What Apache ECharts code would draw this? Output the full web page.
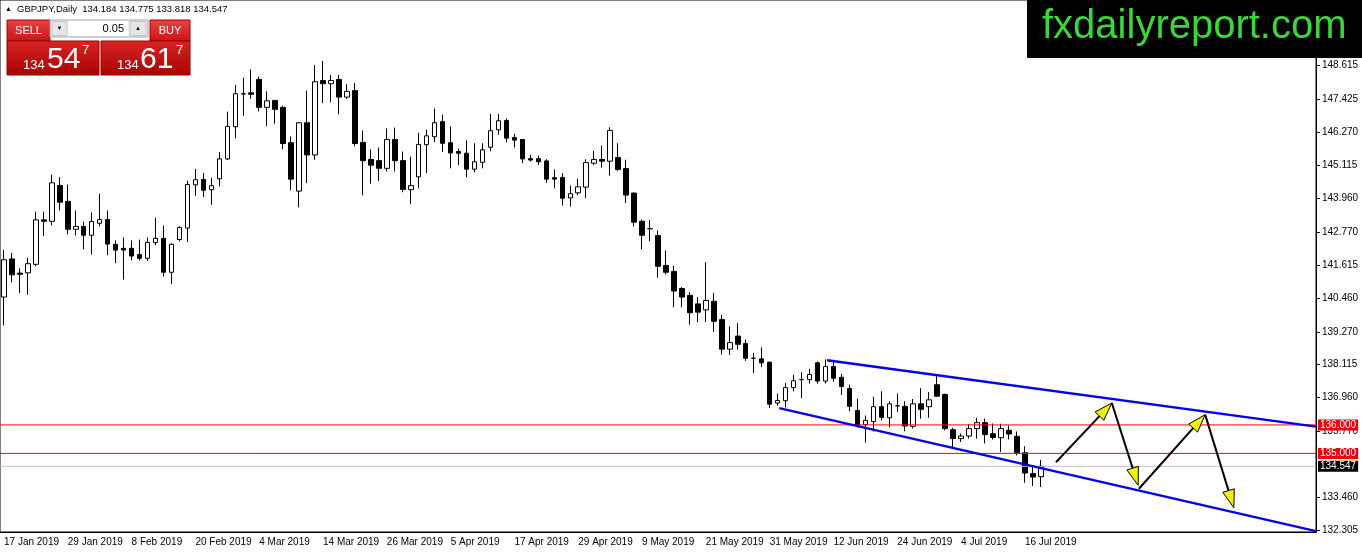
<!DOCTYPE html>
<html>
<head>
<meta charset="utf-8">
<title>GBPJPY Daily</title>
<script src="https://cdn.jsdelivr.net/npm/echarts@6.0.0/dist/echarts.min.js"></script>
<style>
	html, body { margin: 0; padding: 0; background: #fff; }
	#chart { width: 1362px; height: 553px; }
</style>
</head>
<body>
<div id="chart"></div>
<script>
"use strict";

/*-----data-----*/
var startDate = Date.UTC(2019, 0, 17);
var slotCount = 165;
var monthNames = ['Jan', 'Feb', 'Mar', 'Apr', 'May', 'Jun', 'Jul', 'Aug', 'Sep', 'Oct', 'Nov', 'Dec'];
var tickLabels = ['17 Jan 2019', '29 Jan 2019', '8 Feb 2019', '20 Feb 2019', '4 Mar 2019', '14 Mar 2019',
	'26 Mar 2019', '5 Apr 2019', '17 Apr 2019', '29 Apr 2019', '9 May 2019', '21 May 2019', '31 May 2019',
	'12 Jun 2019', '24 Jun 2019', '4 Jul 2019', '16 Jul 2019'];
var priceTicks = [132.305, 133.460, 135.770, 136.960, 138.115, 139.270, 140.460, 141.615,
	142.770, 143.960, 145.115, 146.270, 147.425, 148.615];

var opens = [
	140.49, 141.83, 141.33, 141.34, 141.64, 143.20, 143.15, 144.41, 143.85, 142.87,
	142.97, 142.66, 143.08, 143.21, 142.34, 142.20, 142.20, 141.98, 141.85, 142.40,
	142.55, 141.36, 142.51, 142.91, 144.43, 144.62, 144.26, 144.64, 145.34, 146.47,
	147.63, 147.66, 148.13, 147.15, 147.39, 147.15, 145.91, 144.21, 146.61, 145.48,
	148.09, 147.98, 148.13, 147.51, 147.74, 145.92, 145.32, 145.28, 145.01, 146.02,
	145.28, 144.26, 144.71, 145.84, 146.12, 146.65, 145.91, 145.60, 145.54, 144.98,
	145.22, 145.75, 146.36, 146.69, 146.09, 146.02, 145.35, 145.35, 145.27, 144.68,
	144.69, 143.97, 144.15, 144.35, 145.19, 145.32, 145.26, 145.39, 145.00, 144.14,
	143.15, 142.89, 142.65, 141.60, 141.39, 140.79, 140.55, 140.25, 140.04, 140.34,
	139.70, 138.66, 139.12, 138.86, 138.34, 138.32, 138.20, 136.77, 136.85, 137.31,
	137.59, 137.59, 138.18, 137.54, 138.05, 137.67, 137.28, 136.51, 136.01, 136.12,
	136.64, 136.25, 136.67, 136.65, 135.95, 136.74, 136.64, 137.41, 137.07, 135.83,
	135.52, 135.61, 135.87, 136.08, 135.69, 135.55, 135.81, 135.60, 135.02, 134.29,
	134.184];
var closes = [
	141.80, 141.27, 141.29, 141.66, 143.20, 143.15, 144.50, 143.82, 142.87, 142.97,
	142.66, 143.14, 143.21, 142.35, 142.14, 142.14, 141.93, 141.85, 142.41, 142.55,
	141.36, 142.34, 142.93, 144.44, 144.61, 144.24, 144.40, 145.34, 146.48, 147.63,
	147.62, 147.61, 147.15, 147.38, 147.08, 145.88, 144.63, 146.61, 145.48, 148.05,
	147.98, 148.09, 147.51, 147.71, 145.88, 145.28, 145.12, 145.01, 146.02, 145.28,
	144.27, 144.40, 145.85, 146.15, 146.61, 145.89, 145.55, 145.54, 144.98, 145.24,
	145.66, 146.33, 146.68, 146.07, 146.00, 145.34, 145.30, 145.24, 144.63, 144.63,
	143.96, 144.12, 144.36, 145.21, 145.32, 145.26, 146.34, 144.97, 144.07, 143.12,
	142.66, 142.89, 141.57, 141.36, 140.70, 140.49, 139.94, 139.96, 140.37, 139.64,
	138.66, 138.89, 138.83, 138.34, 138.34, 138.18, 136.73, 136.86, 137.31, 137.55,
	137.59, 137.77, 137.54, 138.05, 137.64, 137.35, 136.65, 135.98, 136.16, 136.64,
	136.26, 136.74, 136.67, 135.96, 136.74, 136.55, 136.88, 137.01, 135.87, 135.52,
	135.61, 135.87, 136.08, 135.66, 135.56, 135.87, 135.68, 135.02, 134.31, 134.17,
	134.547];
var lows = [
	139.49, 141.01, 140.63, 140.57, 141.57, 142.63, 143.00, 143.53, 142.69, 142.65,
	142.16, 141.98, 142.98, 141.96, 141.68, 141.10, 141.78, 141.78, 141.76, 142.31,
	141.21, 140.94, 142.44, 142.42, 144.05, 144.00, 143.73, 144.38, 145.30, 146.07,
	146.86, 147.45, 147.01, 146.49, 146.58, 145.68, 144.24, 143.64, 144.49, 145.31,
	147.30, 147.33, 146.91, 147.45, 145.79, 144.06, 144.47, 144.56, 144.90, 144.90,
	144.17, 143.75, 144.31, 144.84, 145.93, 145.58, 145.01, 145.12, 144.70, 144.87,
	145.01, 145.61, 146.19, 145.93, 145.74, 145.19, 145.25, 145.13, 144.50, 144.31,
	143.70, 143.67, 144.07, 143.96, 145.13, 145.03, 144.75, 144.91, 143.79, 142.97,
	142.17, 142.45, 141.17, 141.28, 140.13, 140.13, 139.52, 139.61, 139.61, 139.26,
	138.47, 138.46, 138.65, 138.25, 137.82, 138.03, 136.59, 136.68, 136.61, 137.18,
	136.94, 137.45, 137.45, 137.46, 137.52, 137.05, 136.48, 135.91, 135.38, 135.77,
	136.16, 135.92, 136.45, 135.78, 135.87, 136.22, 136.25, 136.99, 135.81, 135.20,
	135.40, 135.52, 135.52, 135.35, 135.49, 135.05, 135.49, 134.93, 133.97, 133.85,
	133.818];
var highs = [
	142.15, 142.04, 141.50, 141.87, 143.49, 143.49, 144.79, 144.70, 144.44, 143.53,
	143.14, 143.46, 144.12, 143.53, 142.48, 142.58, 142.48, 142.51, 142.58, 143.28,
	143.00, 142.38, 142.98, 144.58, 144.99, 144.85, 144.68, 145.58, 147.00, 147.94,
	148.19, 148.48, 148.23, 147.71, 147.42, 147.21, 146.13, 146.63, 147.74, 148.64,
	148.78, 148.29, 148.29, 147.96, 148.01, 146.34, 145.67, 145.74, 146.41, 146.44,
	145.60, 145.42, 146.26, 146.37, 147.11, 146.90, 146.48, 145.70, 145.99, 145.89,
	145.89, 146.92, 146.92, 146.76, 146.22, 146.03, 145.49, 145.46, 145.33, 144.97,
	144.84, 144.40, 144.64, 145.33, 145.62, 145.81, 146.45, 145.89, 145.31, 144.16,
	143.21, 143.20, 142.83, 142.13, 141.59, 140.84, 140.66, 140.49, 141.71, 140.64,
	139.87, 139.46, 139.57, 139.00, 138.53, 138.72, 138.23, 137.10, 137.47, 137.76,
	137.85, 137.97, 138.23, 138.30, 138.20, 137.79, 137.41, 136.92, 136.33, 136.99,
	137.18, 136.83, 137.10, 136.83, 136.91, 137.29, 137.15, 137.74, 137.10, 135.90,
	135.70, 136.03, 136.25, 136.22, 136.05, 136.04, 135.98, 135.77, 135.25, 134.58,
	134.775];

/* horizontal levels and drawn objects (bar index, price) */
var levelPrices = [136.000, 135.000];
var currentPrice = 134.547;
var channelUpper = [[103.2, 138.27], [164.5, 135.94]];
var channelLower = [[97.2, 136.59], [164.5, 132.27]];
var arrowSegments = [
	[131.9, 134.69, 138.9, 136.77],
	[138.9, 136.77, 142.2, 133.88],
	[142.3, 133.76, 150.6, 136.36],
	[150.6, 136.36, 154.2, 133.09]
];

/*-----categories (weekdays)-----*/
var categories = [];
var t = startDate;
while (categories.length < slotCount) {
	var d = new Date(t);
	var wd = d.getUTCDay();
	if (wd !== 0 && wd !== 6) {
		categories.push(d.getUTCDate() + ' ' + monthNames[d.getUTCMonth()] + ' ' + d.getUTCFullYear());
	}
	t += 86400000;
}

var candleData = opens.map(function (o, i) {
	return [o, closes[i], lows[i], highs[i]];
});

var axisFont = "'Liberation Sans', Arial, sans-serif";

function showTick(index, value) {
	return tickLabels.indexOf(value) >= 0;
}

/* a full width horizontal line with its price box on the price scale */
function levelSeries(price, lineColor, bg) {
	return {
		name: 'level ' + price,
		type: 'line',
		xAxisIndex: 1,
		yAxisIndex: 0,
		data: [[-0.5, price], [slotCount - 0.5, price]],
		symbol: 'none',
		silent: true,
		z: 3,
		lineStyle: { color: lineColor, width: 1, type: 'solid' },
		endLabel: {
			show: true,
			distance: 2,
			formatter: price.toFixed(3),
			color: '#fff',
			backgroundColor: bg,
			padding: [1, 2, 0, 2],
			fontFamily: axisFont,
			fontSize: 10
		}
	};
}

/*-----chart-----*/
var chart = echarts.init(document.getElementById('chart'));
var option = {
	animation: false,
	backgroundColor: '#fff',
	grid: {
		left: 0,
		top: 0,
		width: 1316,
		height: 532,
		show: true,
		backgroundColor: 'transparent',
		borderColor: '#000',
		borderWidth: 1
	},
	xAxis: [{
		type: 'category',
		data: categories,
		boundaryGap: true,
		axisLine: { onZero: false, lineStyle: { color: '#000', width: 1 } },
		axisTick: {
			interval: showTick,
			alignWithLabel: true,
			length: 4,
			lineStyle: { color: '#000' }
		},
		axisLabel: {
			interval: showTick,
			align: 'left',
			margin: 5,
			color: '#000',
			fontFamily: axisFont,
			fontSize: 10
		},
		splitLine: { show: false }
	}, {
		type: 'value',
		min: -0.5,
		max: slotCount - 0.5,
		show: false
	}],
	yAxis: [{
		type: 'value',
		position: 'right',
		min: 132.24,
		max: 150.92,
		axisLine: { show: true, onZero: false, lineStyle: { color: '#000', width: 1 } },
		axisTick: {
			show: true,
			length: 4,
			customValues: priceTicks,
			lineStyle: { color: '#000' }
		},
		axisLabel: {
			customValues: priceTicks,
			margin: 6,
			color: '#000',
			fontFamily: axisFont,
			fontSize: 10,
			formatter: function (v) { return v.toFixed(3); }
		},
		splitLine: { show: false }
	}],
	series: [{
		name: 'GBPJPY',
		type: 'candlestick',
		xAxisIndex: 0,
		yAxisIndex: 0,
		barWidth: 5,
		data: candleData,
		z: 2,
		itemStyle: {
			color: '#fff',
			color0: '#000',
			borderColor: '#000',
			borderColor0: '#000',
			borderWidth: 1
		}
	},
	levelSeries(levelPrices[0], '#ff0000', '#e8000b'),
	levelSeries(levelPrices[1], '#ff0000', '#e8000b'),
	levelSeries(currentPrice, '#c0c0c0', '#000'),
	{
		name: 'channel upper',
		type: 'line',
		xAxisIndex: 1,
		yAxisIndex: 0,
		data: channelUpper,
		symbol: 'none',
		lineStyle: { color: '#0000ee', width: 2.5 },
		z: 4
	}, {
		name: 'channel lower',
		type: 'line',
		xAxisIndex: 1,
		yAxisIndex: 0,
		data: channelLower,
		symbol: 'none',
		lineStyle: { color: '#0000ee', width: 2.5 },
		z: 4
	}, {
		name: 'arrows',
		type: 'custom',
		xAxisIndex: 1,
		yAxisIndex: 0,
		data: arrowSegments,
		encode: { x: [0, 2], y: [1, 3] },
		z: 5,
		renderItem: function (params, api) {
			var a = api.coord([api.value(0), api.value(1)]);
			var b = api.coord([api.value(2), api.value(3)]);
			var dx = b[0] - a[0], dy = b[1] - a[1];
			var len = Math.sqrt(dx * dx + dy * dy);
			var ux = dx / len, uy = dy / len;
			var hl = 18, hw = 6;
			var bx = b[0] - ux * hl, by = b[1] - uy * hl;
			return {
				type: 'group',
				children: [{
					type: 'line',
					shape: { x1: a[0], y1: a[1], x2: bx, y2: by },
					style: { stroke: '#000', lineWidth: 2 }
				}, {
					type: 'polygon',
					shape: { points: [[b[0], b[1]], [bx - uy * hw, by + ux * hw], [bx + uy * hw, by - ux * hw]] },
					style: { fill: '#f2f200', stroke: '#000', lineWidth: 1 }
				}]
			};
		}
	}],
	graphic: [
		/* header */
		{ type: 'text', z: 100, style: { text: '▲', x: 5, y: 9, font: '7px sans-serif', fill: '#000', verticalAlign: 'middle' } },
		{ type: 'text', z: 100, style: { text: 'GBPJPY,Daily  134.184 134.775 133.818 134.547', x: 17, y: 9, font: "9.5px " + axisFont, fill: '#000', verticalAlign: 'middle' } },
		/* one click trading panel */
		{ type: 'rect', z: 100, shape: { x: 7, y: 20, width: 43, height: 21 }, style: { fill: new echarts.graphic.LinearGradient(0, 0, 0, 1, [{ offset: 0, color: '#e84545' }, { offset: 1, color: '#c81414' }]), stroke: '#b00000' } },
		{ type: 'text', z: 101, style: { text: 'SELL', x: 28.5, y: 30.5, font: "11px " + axisFont, fill: '#fff', align: 'center', verticalAlign: 'middle' } },
		{ type: 'rect', z: 100, shape: { x: 150, y: 20, width: 40, height: 21 }, style: { fill: new echarts.graphic.LinearGradient(0, 0, 0, 1, [{ offset: 0, color: '#e84545' }, { offset: 1, color: '#c81414' }]), stroke: '#b00000' } },
		{ type: 'text', z: 101, style: { text: 'BUY', x: 170, y: 30.5, font: "11px " + axisFont, fill: '#fff', align: 'center', verticalAlign: 'middle' } },
		{ type: 'rect', z: 100, shape: { x: 50, y: 20, width: 98, height: 17 }, style: { fill: '#f0f0f0', stroke: '#a8a8a8' } },
		{ type: 'rect', z: 101, shape: { x: 52, y: 21.5, width: 15, height: 14 }, style: { fill: '#e6e6e6', stroke: '#c8c8c8' } },
		{ type: 'text', z: 102, style: { text: '▼', x: 59.5, y: 28.5, font: '6px sans-serif', fill: '#000', align: 'center', verticalAlign: 'middle' } },
		{ type: 'rect', z: 101, shape: { x: 68, y: 21, width: 60, height: 15 }, style: { fill: '#fff' } },
		{ type: 'text', z: 102, style: { text: '0.05', x: 124, y: 28.5, font: "11px " + axisFont, fill: '#000', align: 'right', verticalAlign: 'middle' } },
		{ type: 'rect', z: 101, shape: { x: 130, y: 21.5, width: 16, height: 14 }, style: { fill: '#e6e6e6', stroke: '#c8c8c8' } },
		{ type: 'text', z: 102, style: { text: '▲', x: 138, y: 28.5, font: '6px sans-serif', fill: '#000', align: 'center', verticalAlign: 'middle' } },
		{ type: 'rect', z: 100, shape: { x: 7, y: 41, width: 92, height: 34 }, style: { fill: new echarts.graphic.LinearGradient(0, 0, 0, 1, [{ offset: 0, color: '#d82424' }, { offset: 1, color: '#a80404' }]), stroke: '#9a0000' } },
		{ type: 'rect', z: 100, shape: { x: 101, y: 41, width: 89, height: 34 }, style: { fill: new echarts.graphic.LinearGradient(0, 0, 0, 1, [{ offset: 0, color: '#d82424' }, { offset: 1, color: '#a80404' }]), stroke: '#9a0000' } },
		{ type: 'text', z: 101, style: { text: '134', x: 23, y: 72, font: "13px " + axisFont, fill: '#fff', verticalAlign: 'bottom' } },
		{ type: 'text', z: 101, style: { text: '54', x: 47, y: 75, font: "30px " + axisFont, fill: '#fff', verticalAlign: 'bottom' } },
		{ type: 'text', z: 101, style: { text: '7', x: 82, y: 44, font: "13px " + axisFont, fill: '#fff', verticalAlign: 'top' } },
		{ type: 'text', z: 101, style: { text: '134', x: 117, y: 72, font: "13px " + axisFont, fill: '#fff', verticalAlign: 'bottom' } },
		{ type: 'text', z: 101, style: { text: '61', x: 140, y: 75, font: "30px " + axisFont, fill: '#fff', verticalAlign: 'bottom' } },
		{ type: 'text', z: 101, style: { text: '7', x: 176, y: 44, font: "13px " + axisFont, fill: '#fff', verticalAlign: 'top' } },
		/* logo */
		{ type: 'rect', z: 100, shape: { x: 1027, y: 0, width: 335, height: 58 }, style: { fill: '#000' } },
		{ type: 'text', z: 101, style: { text: 'fxdailyreport.com', x: 1042, y: 27, font: "40px 'Liberation Sans', Arial, sans-serif", fill: '#3cd63c', verticalAlign: 'middle' } }
	]
};
chart.setOption(option);
window.addEventListener('resize', function () {
	chart.resize();
});
</script>
</body>
</html>
